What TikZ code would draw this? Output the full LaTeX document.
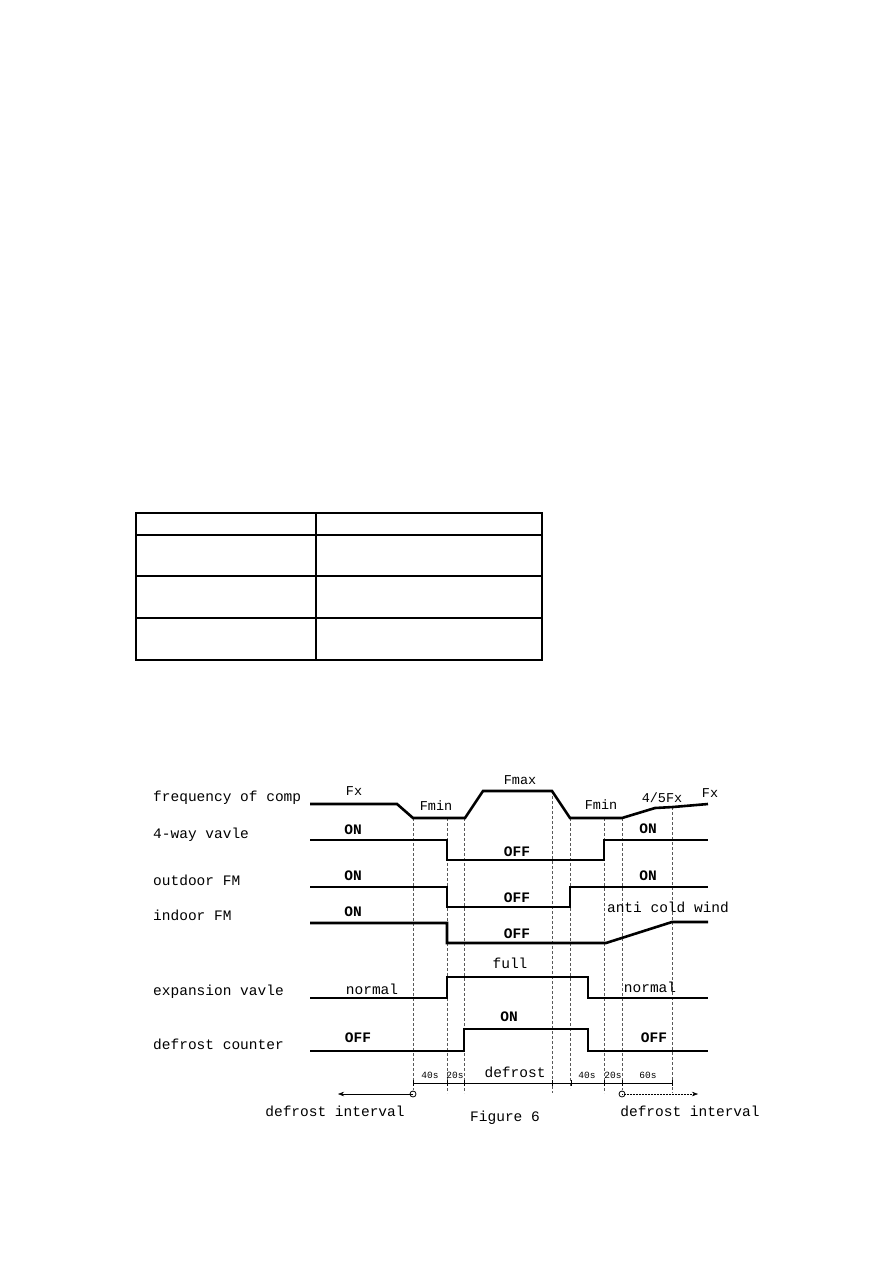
\documentclass[tikz,border=0pt]{standalone}
\usepackage{fontspec}
\usetikzlibrary{arrows.meta}
\newfontfamily\diagfont{Liberation Mono}
\newcommand{\namefont}{\diagfont\fontsize{14.5}{16}\selectfont}
\newcommand{\statefont}{\diagfont\bfseries\fontsize{14.5}{16}\selectfont}
\newcommand{\freqfont}{\diagfont\fontsize{13.5}{15}\selectfont}
\newcommand{\smallfont}{\diagfont\fontsize{9.5}{11}\selectfont}

\begin{document}
\begin{tikzpicture}[x=1pt, y=-1pt,
    sig/.style={line width=2.6pt},
    tbl/.style={line width=1.3pt},
    guide/.style={gray!70!black, line width=0.5pt, dash pattern=on 3pt off 2pt},
    dim/.style={line width=0.5pt},
    rowname/.style={anchor=base west, font=\namefont, inner sep=0pt},
    state/.style={font=\statefont, inner sep=0pt},
    freq/.style={font=\freqfont, inner sep=0pt},
    note/.style={font=\namefont, inner sep=0pt},
    span/.style={font=\smallfont, inner sep=0pt}]
    \useasboundingbox[fill=white] (0,0) rectangle (893,1263);

    % Empty table
    \draw[tbl] (136,513) rectangle (542,660);
    \draw[tbl] (136,535) -- (542,535);
    \draw[tbl] (136,576) -- (542,576);
    \draw[tbl] (136,618) -- (542,618);
    \draw[tbl] (316,513) -- (316,660);

    % Row names
    \node[rowname] (nfreq) at (153,801) {frequency of comp};
    \node[rowname] (nway) at (153,838) {4-way vavle};
    \node[rowname] (nout) at (153,885) {outdoor FM};
    \node[rowname] (nin) at (153,920) {indoor FM};
    \node[rowname] (nexp) at (153,995) {expansion vavle};
    \node[rowname] (ncnt) at (153,1049) {defrost counter};

    % Time marks
    \draw[guide] (413,818) -- (413,1090)
        (447,818) -- (447,1093)
        (464,818) -- (464,1093)
        (552,791) -- (552,1093)
        (570,818) -- (570,1088)
        (604,818) -- (604,1093)
        (622,818) -- (622,1090)
        (672,807) -- (672,1093);

    % Frequency of compressor
    \draw[sig] (310,804) -- (397,804) -- (413,818) -- (465,818) -- (483,791) -- (552,791)
        -- (570,818) -- (622,818) -- (655,808) -- (673,807) -- (708,804);
    \node[freq] (fx1) at (354,791) {Fx};
    \node[freq] (fmin1) at (436,806) {Fmin};
    \node[freq] (fmax) at (520,780) {Fmax};
    \node[freq] (fmin2) at (601,805) {Fmin};
    \node[freq] (f45) at (662,798) {4/5Fx};
    \node[freq] (fx2) at (710,793) {Fx};

    % 4-way valve
    \draw[sig] (310,840) -- (447,840) -- (447,860) -- (604,860) -- (604,840) -- (708,840);
    \node[state] (won1) at (353,830) {ON};
    \node[state] (woff) at (517,852) {OFF};
    \node[state] (won2) at (648,829) {ON};

    % Outdoor fan
    \draw[sig] (310,887) -- (447,887) -- (447,907) -- (570,907) -- (570,887) -- (708,887);
    \node[state] (oon1) at (353,876) {ON};
    \node[state] (ooff) at (517,898) {OFF};
    \node[state] (oon2) at (648,876) {ON};

    % Indoor fan
    \draw[sig] (310,923) -- (447,923) -- (447,943) -- (606,943) -- (672,922) -- (708,922);
    \node[state] (ion) at (353,912) {ON};
    \node[state] (ioff) at (517,934) {OFF};
    \node[note] (acw) at (668,907) {anti cold wind};

    % Expansion valve
    \draw[sig] (310,998) -- (447,998) -- (447,977) -- (588,977) -- (588,998) -- (708,998);
    \node[note] (enorm1) at (372,989) {normal};
    \node[note] (efull) at (510,963) {full};
    \node[note] (enorm2) at (650,987) {normal};

    % Defrost counter
    \draw[sig] (310,1051) -- (464,1051) -- (464,1029) -- (588,1029) -- (588,1051) -- (708,1051);
    \node[state] (coff1) at (358,1038) {OFF};
    \node[state] (con) at (509,1017) {ON};
    \node[state] (coff2) at (654,1038) {OFF};

    % Durations
    \draw[dim] (413,1083) -- (672,1083);
    \draw[dim] (413,1080) -- (413,1086) (447,1080) -- (447,1086) (464,1080) -- (464,1086)
        (552,1080) -- (552,1086) (571,1080) -- (571,1086) (604,1080) -- (604,1086)
        (622,1080) -- (622,1086) (672,1080) -- (672,1086);
    \node[span] (d40a) at (430,1075) {40s};
    \node[span] (d20a) at (455,1075) {20s};
    \node[note] (ddef) at (515,1072) {defrost};
    \node[span] (d40b) at (587,1075) {40s};
    \node[span] (d20b) at (613,1075) {20s};
    \node[span] (d60) at (648,1075) {60s};

    % Defrost intervals
    \coordinate (lstart) at (413,1094);
    \coordinate (lend) at (338,1094);
    \coordinate (rstart) at (622,1094);
    \coordinate (rend) at (698,1094);
    \draw[dim, -{Stealth[length=6pt]}] (lstart) -- (lend);
    \draw[dim, densely dotted, -{Stealth[length=6pt]}] (rstart) -- (rend);
    \draw[line width=0.8pt] (lstart) circle (3);
    \draw[line width=0.8pt] (rstart) circle (3);
    \node[note] (lint) at (335,1111) {defrost interval};
    \node[note] (rint) at (690,1111) {defrost interval};
    \node[note] (cap) at (505,1118) {Figure 6};
\end{tikzpicture}
\end{document}
